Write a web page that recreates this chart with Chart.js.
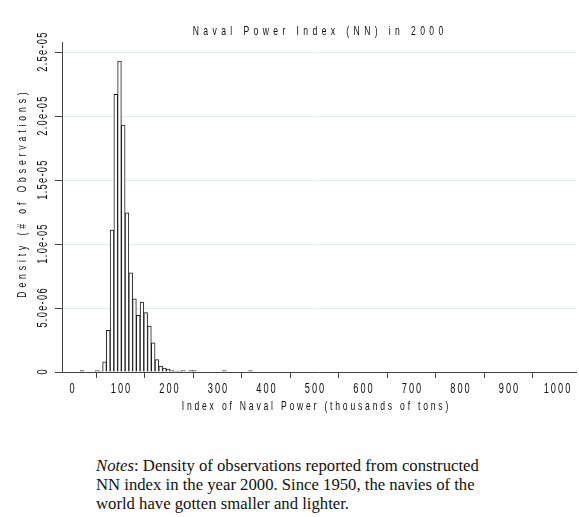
<!DOCTYPE html>
<html>
<head>
<meta charset="utf-8">
<script src="https://cdn.jsdelivr.net/npm/chart.js@4/dist/chart.umd.min.js"></script>
<style>
  html, body { margin: 0; padding: 0; background: #fff; }
  #wrap { position: relative; width: 579px; height: 517px; }
  #chart { position: absolute; left: 0; top: 0; }
  #notes {
    position: absolute; left: 96px; top: 456px; width: 480px;
    font-family: 'Liberation Serif', 'Times New Roman', serif;
    font-size: 16.7px; line-height: 19px; color: #111; white-space: nowrap;
  }
</style>
</head>
<body>
<div id="wrap">
  <canvas id="chart" width="579" height="420"></canvas>
  <div id="notes"><i>Notes</i>: Density of observations reported from constructed<br>NN index in the year 2000. Since 1950, the navies of the<br>world have gotten smaller and lighter.</div>
</div>
<script>
// ── histogram data (bin midpoints, thousands of tons) ──
const binMid = [20.74, 51.62, 59.34, 67.06, 74.78, 82.50, 90.22, 97.94, 105.66, 113.38,
                121.10, 128.82, 136.54, 144.26, 151.98, 159.70, 167.42, 175.14, 182.86,
                190.58, 198.30, 206.02, 213.74, 221.46, 229.18, 244.62, 252.34, 314.10, 368.14];
const density = [1.2e-7, 1.2e-7, 0.8e-7, 8.0e-7, 3.26e-6, 1.11e-5, 2.17e-5, 2.43e-5, 1.93e-5, 1.245e-5,
                 7.76e-6, 5.73e-6, 4.43e-6, 5.47e-6, 4.64e-6, 3.59e-6, 2.29e-6, 9.8e-7, 4.6e-7,
                 3.0e-7, 2.3e-7, 1.2e-7, 0.8e-7, 0.8e-7, 1.2e-7, 1.2e-7, 1.2e-7, 1.2e-7, 1.2e-7];

// ── axes ──
const xTicks = [0, 100, 200, 300, 400, 500, 600, 700, 800, 900, 1000];
const xTickLabels = ['0', '100', '200', '300', '400', '500', '600', '700', '800', '900', '1000'];
const yTicks = [0, 5e-6, 1e-5, 1.5e-5, 2e-5, 2.5e-5];
const yTickLabels = ['0', '5.0e-06', '1.0e-05', '1.5e-05', '2.0e-05', '2.5e-05'];

const titleText = 'Naval Power Index (NN) in 2000';
const xTitle = 'Index of Naval Power (thousands of tons)';
const yTitle = 'Density (# of Observations)';

const FONT = "'Liberation Sans', Arial, sans-serif";
const TEXT = '#111';
const AXIS = '#444';
const SQUEEZE = 0.66;   // stata's tall narrow glyphs

// draw a narrow, letter-spaced string centred on (x, y), optionally rotated
function spacedText(ctx, str, x, y, size, spacing, rot) {
    const local = spacing / SQUEEZE;
    ctx.save();
    ctx.font = size + 'px ' + FONT;
    ctx.letterSpacing = local + 'px';
    ctx.textAlign = 'center';
    ctx.textBaseline = 'middle';
    ctx.translate(x, y);
    if (rot) ctx.rotate(rot);
    ctx.scale(SQUEEZE, 1);
    ctx.fillText(str, local / 2, 0);
    ctx.restore();
}

const stataText = {
    id: 'stataText',
    afterDraw(chart) {
        const ctx = chart.ctx;
        const area = chart.chartArea;
        const xs = chart.scales.x;
        const ys = chart.scales.y;
        ctx.fillStyle = TEXT;

        spacedText(ctx, titleText, (area.left + area.right) / 2 - 1, 31, 13, 4.4);
        spacedText(ctx, xTitle, 315, 406, 13, 2.8);
        spacedText(ctx, yTitle, 22, 195, 13, 3.9, -Math.PI / 2);

        xTicks.forEach((v, i) => {
            spacedText(ctx, xTickLabels[i], xs.getPixelForValue(v), 389, 14, 2.0);
        });
        yTicks.forEach((v, i) => {
            spacedText(ctx, yTickLabels[i], 43, ys.getPixelForValue(v), 14, 1.3, -Math.PI / 2);
        });
    }
};

new Chart(document.getElementById('chart'), {
    type: 'bar',
    data: {
        datasets: [{
            data: binMid.map((x, i) => ({ x: x, y: density[i] })),
            backgroundColor: '#ffffff',
            borderColor: '#1a1a1a',
            borderWidth: 1,
            barPercentage: 1,
            categoryPercentage: 1
        }]
    },
    options: {
        responsive: false,
        animation: false,
        devicePixelRatio: 1,
        layout: { padding: { top: 42, right: 3, left: 0, bottom: 0 } },
        plugins: {
            legend: { display: false },
            tooltip: { enabled: false },
            title: { display: false }
        },
        scales: {
            x: {
                type: 'linear',
                offset: false,
                min: -20.6,
                max: 1039.2,
                afterBuildTicks: s => { s.ticks = xTicks.map(v => ({ value: v })); },
                afterFit: s => { s.height = 48; },
                ticks: { display: false },
                grid: {
                    drawOnChartArea: false,
                    drawTicks: true,
                    tickLength: 6,
                    tickColor: AXIS
                },
                border: { color: AXIS, width: 1 }
            },
            y: {
                min: 0,
                max: 2.58e-5,
                afterBuildTicks: s => { s.ticks = yTicks.map(v => ({ value: v })); },
                afterFit: s => { s.width = 62; },
                ticks: { display: false },
                grid: {
                    color: '#e4eced',
                    lineWidth: 1,
                    drawTicks: true,
                    tickLength: 7,
                    tickColor: AXIS
                },
                border: { color: AXIS, width: 1 }
            }
        }
    },
    plugins: [stataText]
});
</script>
</body>
</html>
